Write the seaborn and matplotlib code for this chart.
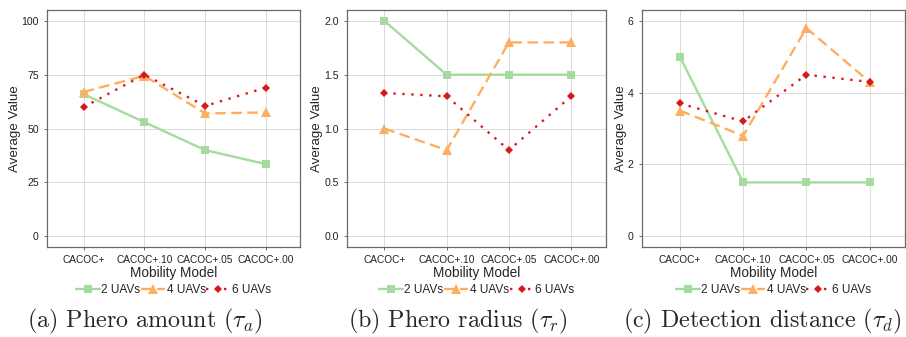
import pandas as pd
import numpy as np
import matplotlib
matplotlib.use("Agg")
import matplotlib.pyplot as plt
import seaborn as sns


models = ["CACOC+", "CACOC+.10", "CACOC+.05", "CACOC+.00"]
groups = ["2 UAVs", "4 UAVs", "6 UAVs"]

# (a) phero amount
amount_2 = [66, 53, 40, 33.5]
amount_4 = [67, 74.5, 57, 57.5]
amount_6 = [60, 75, 60.5, 69]

# (b) phero radius
radius_2 = [2.0, 1.5, 1.5, 1.5]
radius_4 = [1.0, 0.8, 1.8, 1.8]
radius_6 = [1.33, 1.3, 0.8, 1.3]

# (c) detection distance
detect_2 = [5.0, 1.5, 1.5, 1.5]
detect_4 = [3.5, 2.8, 5.8, 4.3]
detect_6 = [3.7, 3.2, 4.5, 4.3]

amount_ticks = [0, 25, 50, 75, 100]
radius_ticks = [0.0, 0.5, 1.0, 1.5, 2.0]
detect_ticks = [0, 2, 4, 6]

captions = [r"(a) Phero amount ($\tau_a$)",
            r"(b) Phero radius ($\tau_r$)",
            r"(c) Detection distance ($\tau_d$)"]


def make_frame(s2, s4, s6):
    rows = []
    for g, vals in zip(groups, [s2, s4, s6]):
        for m, v in zip(models, vals):
            rows.append({"model": m, "uavs": g, "value": v})
    return pd.DataFrame(rows)


sns.set_theme(style="white")
plt.rcParams["font.family"] = ["Liberation Sans", "DejaVu Sans"]
plt.rcParams["mathtext.fontset"] = "cm"

palette = {"2 UAVs": "#a6dba0", "4 UAVs": "#fdae61", "6 UAVs": "#d7191c"}
markers = {"2 UAVs": "s", "4 UAVs": "^", "6 UAVs": "D"}
dashes = {"2 UAVs": "", "4 UAVs": (4.5, 2.3), "6 UAVs": (1, 2.8)}
msizes = {"#a6dba0": 5.5, "#fdae61": 7, "#d7191c": 4.3}

fig = plt.figure(figsize=(9.06, 3.37), dpi=100)

bottom, top = 0.267, 0.970
lefts = [0.052, 0.383, 0.7086]
rights = [0.331, 0.669, 0.9989]
panels = [
    (make_frame(amount_2, amount_4, amount_6), amount_ticks, (-5, 105), lambda v: f"{v:g}"),
    (make_frame(radius_2, radius_4, radius_6), radius_ticks, (-0.1, 2.1), lambda v: f"{v:.1f}"),
    (make_frame(detect_2, detect_4, detect_6), detect_ticks, (-0.3, 6.3), lambda v: f"{v:g}"),
]
caption_x = [145, 458, 762]

for i, (df, ticks, ylim, fmt) in enumerate(panels):
    ax = fig.add_axes([lefts[i], bottom, rights[i] - lefts[i], top - bottom])
    sns.lineplot(data=df, x="model", y="value", hue="uavs", style="uavs",
                 palette=palette, markers=markers, dashes=dashes,
                 linewidth=1.7, markersize=5.5, markeredgewidth=0, ax=ax,
                 sort=False)
    handles, labels = ax.get_legend_handles_labels()
    ax.get_legend().remove()
    # per-series marker sizes, legend handles too
    for ln in list(ax.lines) + list(handles):
        c = matplotlib.colors.to_hex(ln.get_color())
        if c in msizes:
            ln.set_markersize(msizes[c])

    ax.set_xlim(-0.6, 3.56)
    ax.set_ylim(*ylim)
    ax.set_yticks(ticks)
    ax.set_yticklabels([fmt(t) for t in ticks], fontsize=7.6, color="#222222")
    ax.tick_params(axis="x", labelsize=7.3, colors="#222222", pad=3)
    ax.tick_params(axis="both", length=2.5, width=0.6, color="#555555", direction="out")
    ax.tick_params(axis="both", bottom=True, left=True)
    ax.grid(True, color="#d4d4d4", linewidth=0.6)
    ax.set_axisbelow(True)
    for sp in ax.spines.values():
        sp.set_color("#6a6a6a")
        sp.set_linewidth(0.9)
    ax.set_xlabel("Mobility Model", fontsize=9.8, labelpad=1)
    ax.set_ylabel("Average Value", fontsize=9.6, labelpad=0.5)

    cx = (lefts[i] + rights[i]) / 2
    fig.legend(handles, labels, loc="center", bbox_to_anchor=(cx, 0.139),
               ncol=3, frameon=False, fontsize=8.6, handlelength=2.0,
               handletextpad=0.15, columnspacing=0.05, borderaxespad=0)

    fig.text(caption_x[i] / 906, 0.045, captions[i], ha="center", va="center",
             fontsize=17.3, family="cmr10")

fig.savefig("out.png", dpi=100)
